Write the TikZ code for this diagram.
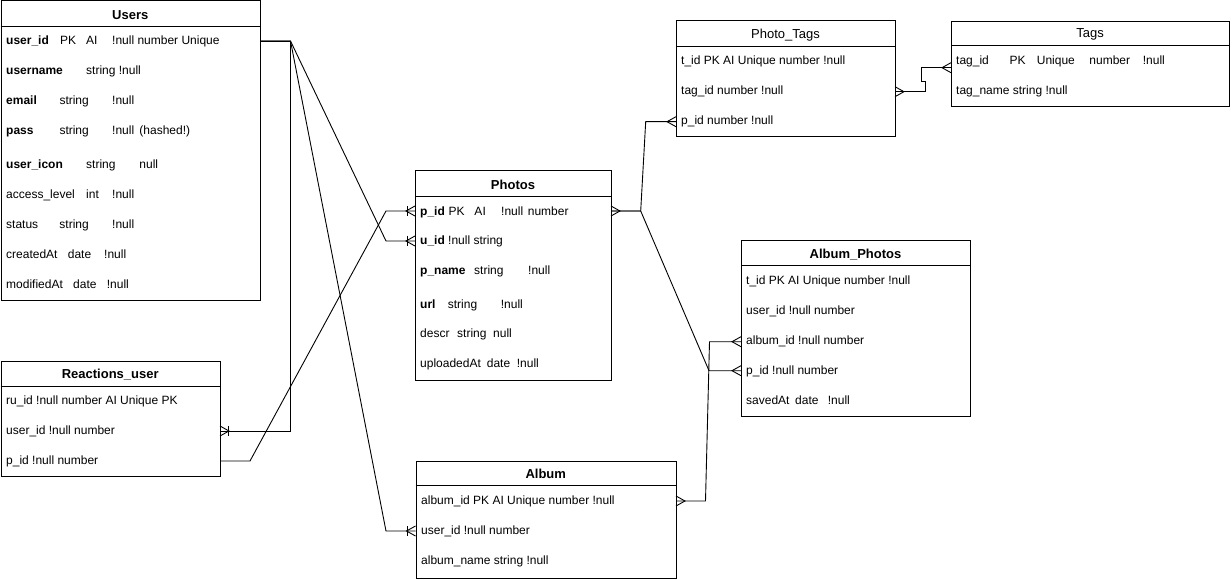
\documentclass[tikz,border=0pt]{standalone}
\usepackage{fontspec}
\setmainfont{Liberation Sans}
\usetikzlibrary{calc}
\tikzset{
  tbl/.style={draw, line width=1pt, inner sep=0pt, anchor=north west},
  hd/.style={font=\fontsize{13}{15}\selectfont\bfseries, anchor=center, inner sep=0pt},
  rw/.style={font=\fontsize{12}{14}\selectfont, anchor=base west, inner sep=0pt},
  con/.style={line width=0.9pt, line join=miter},
}
\newcommand{\ertable}[7]{%
  \node[tbl, minimum width=#4pt, minimum height=#5pt] (#1) at (#2,#3) {};
  \draw[line width=1pt] (#2,#3+#6) -- (#2+#4,#3+#6);
  \node[hd] (#1-title) at (#2+#4/2,#3+#6/2+1.3) {#7};
}
\newcommand{\errow}[4]{\node[rw] (#1) at (#2,#3+4.3) {#4};}
\newcommand{\crowmany}[2]{\draw[con] ($(#1)+(0,-5)$) -- ($(#1)+(#2,0)$) -- ($(#1)+(0,5)$);}
\newcommand{\crowbar}[2]{\draw[con] ($(#1)+(#2,-5)$) -- ($(#1)+(#2,5)$);}
\newcommand{\mb}[2]{\makebox[#1pt][l]{#2}}
\begin{document}
\begin{tikzpicture}[x=1pt,y=-1pt]
\useasboundingbox (0,0) rectangle (1232,580);

% ---------- Users ----------
\ertable{users}{0.5}{0.5}{259.5}{299.5}{26}{Users}
\errow{u1}{6}{40}{\mb{54}{\textbf{user\_id}}\mb{26}{PK}\mb{26}{AI}!null number Unique}
\errow{u2}{6}{70}{\mb{80}{\textbf{username}}string !null}
\errow{u3}{6}{100}{\mb{53.3}{\textbf{email}}\mb{52.7}{string}!null}
\errow{u4}{6}{130}{\mb{53.3}{\textbf{pass}}\mb{52.7}{string}\mb{27.3}{!null}(hashed!)}
\errow{u5}{6}{164}{\mb{80}{\textbf{user\_icon}}\mb{53.3}{string}null}
\errow{u6}{6}{194}{\mb{80}{access\_level}\mb{26}{int}!null}
\errow{u7}{6}{224}{\mb{53.3}{status}\mb{52.7}{string}!null}
\errow{u8}{6}{254}{\mb{61.7}{createdAt}\mb{36.3}{date}!null}
\errow{u9}{6}{284}{\mb{67}{modifiedAt}\mb{33.7}{date}!null}

% ---------- Photos ----------
\ertable{photos}{415}{170.5}{196}{209.5}{26}{Photos}
\errow{p1}{420}{211}{\mb{28.3}{\textbf{p\_id}}\mb{26}{PK}\mb{26.7}{AI}\mb{26.7}{!null}number}
\errow{p2}{420}{240}{\textbf{u\_id} !null string}
\errow{p3}{420}{270}{\mb{54}{\textbf{p\_name}}\mb{54}{string}!null}
\errow{p4}{420}{304}{\mb{27.7}{\textbf{url}}\mb{53}{string}!null}
\errow{p5}{420}{333}{\mb{37}{descr}\mb{36}{string}null}
\errow{p6}{420}{363}{\mb{66.7}{uploadedAt}\mb{30}{date}!null}

% ---------- Reactions_user ----------
\ertable{reac}{0.5}{360.5}{219.5}{115.5}{26}{Reactions\_user}
\errow{r1}{6}{400}{ru\_id !null number AI Unique PK}
\errow{r2}{6}{430}{user\_id !null number}
\errow{r3}{6}{460}{p\_id !null number}

% ---------- Album ----------
\ertable{album}{415.5}{460.5}{260.5}{117}{25}{Album}
\errow{a1}{421}{500}{album\_id PK AI Unique number !null}
\errow{a2}{421}{530}{user\_id !null number}
\errow{a3}{421}{560}{album\_name string !null}

% ---------- Photo_Tags ----------
\ertable{pt}{676}{20.5}{219}{115.5}{26}{\mdseries Photo\_Tags}
\errow{t1}{681}{60}{t\_id PK AI Unique number !null}
\errow{t2}{681}{90}{tag\_id number !null}
\errow{t3}{681}{120}{p\_id number !null}

% ---------- Tags ----------
\ertable{tags}{951}{21}{278}{85.5}{25}{\mdseries Tags}
\errow{g1}{956}{60}{\mb{53.3}{tag\_id}\mb{27.4}{PK}\mb{52.6}{Unique}\mb{53.4}{number}!null}
\errow{g2}{956}{90}{tag\_name string !null}

% ---------- Album_Photos ----------
\ertable{ap}{741}{240.5}{229}{175}{25.5}{Album\_Photos}
\errow{b1}{746}{280}{t\_id PK AI Unique number !null}
\errow{b2}{746}{310}{user\_id !null number}
\errow{b3}{746}{340}{album\_id !null number}
\errow{b4}{746}{370}{p\_id !null number}
\errow{b5}{746}{400}{\mb{49}{savedAt}\mb{32.7}{date}!null}

% ---------- ports ----------
\coordinate (users-uid) at (260,41);
\coordinate (reac-uid) at (220,431);
\coordinate (reac-pid) at (220,461);
\coordinate (photos-pid-w) at (415,211);
\coordinate (photos-uid-w) at (415,241);
\coordinate (photos-pid-e) at (611,211);
\coordinate (album-uid) at (415.5,531);
\coordinate (album-aid) at (676,501);
\coordinate (pt-pid) at (676,121.7);
\coordinate (pt-tid) at (895,91.7);
\coordinate (tags-tid) at (951,67.7);
\coordinate (ap-aid) at (741,341.7);
\coordinate (ap-pid) at (741,370.7);

% bends
\coordinate (j1) at (290.5,41);
\coordinate (j1b) at (290.5,431);
\coordinate (j2) at (386,241);
\coordinate (j3) at (386,531);
\coordinate (j4) at (250,461);
\coordinate (j5) at (386,211);
\coordinate (j6) at (640.7,211);
\coordinate (j7) at (645.7,121.7);
\coordinate (j8) at (709,370.7);
\coordinate (j9) at (705.5,501);
\coordinate (j10) at (709.5,341.7);
\coordinate (k1) at (925,91.7);
\coordinate (k2) at (925,81.7);
\coordinate (k3) at (921,81.7);
\coordinate (k4) at (921,67.7);

% ---------- connectors ----------
\draw[con] (users-uid) -- (j1) -- (j1b) -- (reac-uid);
\draw[con] (users-uid) -- (j1) -- (j2) -- (photos-uid-w);
\draw[con] (users-uid) -- (j1) -- (j3) -- (album-uid);
\draw[con] (reac-pid) -- (j4) -- (j5) -- (photos-pid-w);
\draw[con] (photos-pid-e) -- (j6) -- (j7) -- (pt-pid);
\draw[con] (photos-pid-e) -- (j6) -- (j8) -- (ap-pid);
\draw[con] (album-aid) -- (j9) -- (j10) -- (ap-aid);
\draw[con] (pt-tid) -- (k1) -- (k2) -- (k3) -- (k4) -- (tags-tid);

% ---------- markers ----------
\crowmany{reac-uid}{9}\crowbar{reac-uid}{8}
\crowmany{photos-uid-w}{-9}\crowbar{photos-uid-w}{-8}
\crowmany{album-uid}{-9}\crowbar{album-uid}{-8}
\crowmany{photos-pid-w}{-9}\crowbar{photos-pid-w}{-8}
\crowmany{photos-pid-e}{9}
\crowmany{pt-pid}{-9}
\crowmany{ap-pid}{-9}
\crowmany{album-aid}{9}
\crowmany{ap-aid}{-9}
\crowmany{pt-tid}{9}
\crowmany{tags-tid}{-9}
\end{tikzpicture}
\end{document}
